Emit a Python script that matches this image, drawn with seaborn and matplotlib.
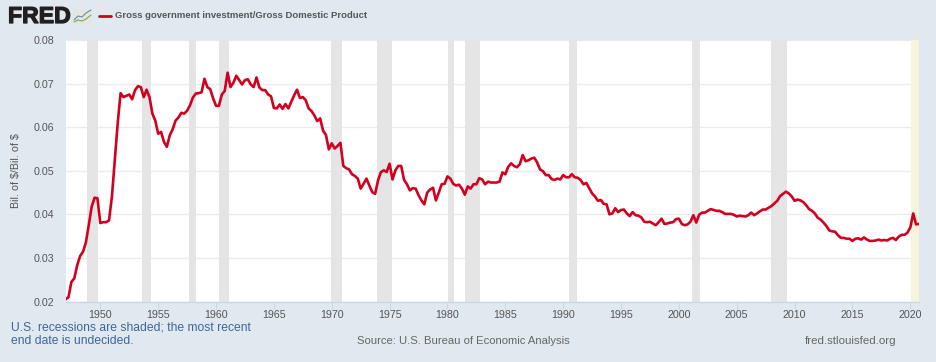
import matplotlib
matplotlib.use('Agg')
import matplotlib.pyplot as plt
import matplotlib.patheffects as pe
import numpy as np
import pandas as pd
import seaborn as sns
from matplotlib.lines import Line2D
from matplotlib.patches import Rectangle

# quarterly values, one row per year, 1947 to 2020
ratio = [
    .0205, .0210, .0245, .0253,
    .0283, .0304, .0314, .0335,
    .0375, .0417, .0438, .0437,
    .0380, .0382, .0382, .0386,
    .0440, .0524, .0608, .0678,
    .0669, .0672, .0675, .0664,
    .0685, .0694, .0692, .0669,
    .0686, .0669, .0631, .0615,
    .0585, .0589, .0566, .0555,
    .0581, .0595, .0615, .0622,
    .0633, .0631, .0638, .0650,
    .0668, .0677, .0678, .0680,
    .0711, .0692, .0687, .0666,
    .0649, .0649, .0675, .0683,
    .0725, .0692, .0702, .0718,
    .0708, .0698, .0708, .0710,
    .0698, .0692, .0714, .0691,
    .0685, .0685, .0675, .0671,
    .0644, .0643, .0652, .0642,
    .0653, .0643, .0658, .0673,
    .0686, .0667, .0669, .0662,
    .0643, .0637, .0627, .0614,
    .0620, .0592, .0582, .0549,
    .0563, .0551, .0557, .0564,
    .0511, .0506, .0503, .0492,
    .0488, .0482, .0459, .0470,
    .0482, .0466, .0451, .0447,
    .0478, .0497, .0501, .0497,
    .0516, .0480, .0501, .0511,
    .0511, .0479, .0469, .0455,
    .0460, .0459, .0444, .0432,
    .0423, .0450, .0457, .0461,
    .0432, .0450, .0469, .0470,
    .0487, .0482, .0470, .0466,
    .0468, .0459, .0445, .0464,
    .0459, .0469, .0469, .0483,
    .0480, .0469, .0475, .0473,
    .0473, .0473, .0475, .0496,
    .0492, .0509, .0517, .0511,
    .0508, .0515, .0536, .0522,
    .0524, .0528, .0530, .0519,
    .0503, .0499, .0490, .0490,
    .0481, .0479, .0482, .0480,
    .0490, .0485, .0485, .0492,
    .0485, .0484, .0479, .0469,
    .0472, .0460, .0448, .0441,
    .0431, .0433, .0424, .0423,
    .0400, .0402, .0414, .0405,
    .0410, .0411, .0402, .0396,
    .0405, .0398, .0397, .0393,
    .0383, .0382, .0383, .0379,
    .0375, .0382, .0390, .0378,
    .0379, .0381, .0382, .0389,
    .0390, .0378, .0375, .0377,
    .0383, .0398, .0381, .0399,
    .0404, .0404, .0408, .0412,
    .0410, .0408, .0408, .0405,
    .0401, .0401, .0401, .0399,
    .0395, .0397, .0396, .0395,
    .0398, .0404, .0398, .0402,
    .0407, .0411, .0411, .0415,
    .0419, .0425, .0431, .0442,
    .0447, .0452, .0448, .0441,
    .0431, .0434, .0432, .0428,
    .0421, .0412, .0408, .0402,
    .0392, .0388, .0381, .0373,
    .0363, .0361, .0360, .0352,
    .0346, .0346, .0344, .0344,
    .0339, .0344, .0345, .0342,
    .0347, .0342, .0339, .0339,
    .0340, .0342, .0340, .0341,
    .0340, .0344, .0346, .0341,
    .0349, .0353, .0353, .0358,
    .0370, .0402, .0377, .0378,
]
recession_start = [1948.88, 1953.57, 1957.66, 1960.29, 1969.97, 1973.87, 1980.08, 1981.5, 1990.5, 2001.17, 2007.97]
recession_end = [1949.8, 1954.38, 1958.27, 1961.09, 1970.86, 1975.2, 1980.53, 1982.8, 1991.17, 2001.86, 2009.37]
undecided_start = 2020.1
x_ticks = [1950, 1955, 1960, 1965, 1970, 1975, 1980, 1985, 1990, 1995, 2000, 2005, 2010, 2015, 2020]
y_ticks = [0.02, 0.03, 0.04, 0.05, 0.06, 0.07, 0.08]

df = pd.DataFrame({"year": 1947 + np.arange(len(ratio)) / 4, "ratio": ratio})

sns.set_theme(style="white")
plt.rcParams['font.family'] = ['Liberation Sans', 'DejaVu Sans']

W, H = 936, 362
bg = "#e1e9f0"
red = "#d2001f"
fig = plt.figure(figsize=(W / 100, H / 100), dpi=100, facecolor=bg)
ax = fig.add_axes([65.6 / W, 1 - 301.5 / H, (919 - 65.6) / W, (301.5 - 40) / H], facecolor="white")

sns.lineplot(data=df, x="year", y="ratio", color=red, linewidth=1.9, ax=ax, zorder=5)

for a, b in zip(recession_start, recession_end):
    ax.axvspan(a, b, color="#e5e5e5", lw=0, zorder=2)
ax.axvspan(undecided_start, df["year"].max(), color="#f6f4dc", lw=0, zorder=2)

ax.set_xlim(df["year"].min(), df["year"].max())
ax.set_ylim(0.02, 0.08)
ax.set_xticks(x_ticks)
ax.set_yticks(y_ticks)
ax.set_yticklabels([f"{v:.2f}" for v in y_ticks])
ax.grid(axis="y", color="#ebebeb", lw=1, zorder=1)
ax.set_axisbelow(True)
for s in ["top", "left", "right"]:
    ax.spines[s].set_visible(False)
ax.spines["bottom"].set_color("#ccd6eb")
ax.spines["bottom"].set_linewidth(1)
ax.tick_params(axis="x", length=5, width=0.8, color="#ccd6eb", labelsize=7.7, labelcolor="#555555", pad=1, bottom=True)
ax.tick_params(axis="y", length=0, labelsize=7.7, labelcolor="#555555", pad=8)
ax.set_xlabel("")
ax.set_ylabel(r"Bil. of \$/Bil. of \$", fontsize=7.7, color="#555555")
ax.yaxis.set_label_coords((21 - 65.6) / (919 - 65.6), 0.5)

# header: logo and legend
fig.text(8 / W, 1 - 16.5 / H, "FRED", fontsize=16.6, fontweight="bold", color="#231f20", va="center", ha="left",
         path_effects=[pe.withStroke(linewidth=0.9, foreground="#231f20")])
fig.add_artist(Rectangle((73 / W, 1 - 24.5 / H), 18 / W, 15.5 / H, transform=fig.transFigure, fc="#e6e6e0", ec="none"))
fig.add_artist(Line2D(np.array([74, 78, 82, 86, 91]) / W, 1 - np.array([20, 16, 17, 13, 10]) / H, color="#5b8fa8", lw=0.8))
fig.add_artist(Line2D(np.array([74, 78, 82, 86, 91]) / W, 1 - np.array([22, 20, 21, 19, 15]) / H, color="#7fa45a", lw=0.8))
fig.add_artist(Line2D([99 / W, 111 / W], [1 - 16 / H, 1 - 16 / H], color=red, lw=2))
fig.text(115 / W, 1 - 16 / H, "Gross government investment/Gross Domestic Product", fontsize=6.8,
         fontweight="bold", color="#555555", va="center", ha="left")

# footer
fig.text(11 / W, 1 - 327 / H, "U.S. recessions are shaded; the most recent", fontsize=8.7, color="#3f659b", va="center")
fig.text(11 / W, 1 - 341.5 / H, "end date is undecided.", fontsize=8.7, color="#3f659b", va="center")
fig.text(357 / W, 1 - 341.5 / H, "Source: U.S. Bureau of Economic Analysis", fontsize=8.1, color="#666666", va="center")
fig.text(805 / W, 1 - 341.5 / H, "fred.stlouisfed.org", fontsize=8.25, color="#666666", va="center")

fig.savefig("out.png", dpi=100, facecolor=bg)
